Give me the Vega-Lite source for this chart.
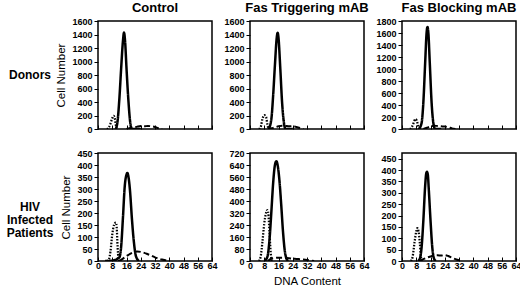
{
  "$schema": "https://vega.github.io/schema/vega-lite/v6.json",
  "padding": {"left": 0, "top": 1, "right": 0, "bottom": 0},
  "background": "white",
  "config": {
    "font": "Liberation Sans",
    "view": {"stroke": "black", "strokeWidth": 1.5},
    "axis": {"domain": false, "grid": false, "tickColor": "black", "labelColor": "black", "titleColor": "black", "labelFont": "Liberation Sans", "labelFontWeight": "bold", "labelFontSize": 9, "labelOverlap": false, "labelFlush": false, "titleFont": "Liberation Sans", "titleFontWeight": "normal", "titleFontSize": 11.5, "tickWidth": 1},
    "title": {"font": "Liberation Sans", "fontWeight": "bold", "fontSize": 13, "color": "black", "offset": 2}
  },
  "data": {"values": [
    {"panel":"DC","series":"solid","x":10,"y":0},{"panel":"DC","series":"solid","x":11,"y":120},{"panel":"DC","series":"solid","x":12,"y":450},{"panel":"DC","series":"solid","x":13,"y":900},{"panel":"DC","series":"solid","x":14,"y":1300},{"panel":"DC","series":"solid","x":14.6,"y":1430},{"panel":"DC","series":"solid","x":15.2,"y":1300},{"panel":"DC","series":"solid","x":16,"y":900},{"panel":"DC","series":"solid","x":17,"y":450},{"panel":"DC","series":"solid","x":18,"y":120},{"panel":"DC","series":"solid","x":19,"y":0},{"panel":"DC","series":"solid","x":24,"y":0},
    {"panel":"DC","series":"dotted","x":5,"y":0},{"panel":"DC","series":"dotted","x":6,"y":20},{"panel":"DC","series":"dotted","x":7,"y":80},{"panel":"DC","series":"dotted","x":8,"y":160},{"panel":"DC","series":"dotted","x":8.8,"y":195},{"panel":"DC","series":"dotted","x":9.5,"y":150},{"panel":"DC","series":"dotted","x":10,"y":60},{"panel":"DC","series":"dotted","x":10.5,"y":10},{"panel":"DC","series":"dotted","x":11,"y":0},
    {"panel":"DC","series":"dashed","x":16,"y":0},{"panel":"DC","series":"dashed","x":18,"y":15},{"panel":"DC","series":"dashed","x":20,"y":20},{"panel":"DC","series":"dashed","x":22,"y":35},{"panel":"DC","series":"dashed","x":24,"y":45},{"panel":"DC","series":"dashed","x":26,"y":40},{"panel":"DC","series":"dashed","x":28,"y":45},{"panel":"DC","series":"dashed","x":30,"y":40},{"panel":"DC","series":"dashed","x":32,"y":30},{"panel":"DC","series":"dashed","x":34,"y":10},{"panel":"DC","series":"dashed","x":36,"y":0},

    {"panel":"DT","series":"solid","x":10.5,"y":0},{"panel":"DT","series":"solid","x":12,"y":150},{"panel":"DT","series":"solid","x":13,"y":500},{"panel":"DT","series":"solid","x":14,"y":950},{"panel":"DT","series":"solid","x":15,"y":1350},{"panel":"DT","series":"solid","x":15.5,"y":1425},{"panel":"DT","series":"solid","x":16,"y":1350},{"panel":"DT","series":"solid","x":17,"y":900},{"panel":"DT","series":"solid","x":18,"y":400},{"panel":"DT","series":"solid","x":19,"y":100},{"panel":"DT","series":"solid","x":20,"y":0},{"panel":"DT","series":"solid","x":24,"y":0},
    {"panel":"DT","series":"dotted","x":5,"y":0},{"panel":"DT","series":"dotted","x":6,"y":30},{"panel":"DT","series":"dotted","x":7,"y":150},{"panel":"DT","series":"dotted","x":8,"y":205},{"panel":"DT","series":"dotted","x":9,"y":180},{"panel":"DT","series":"dotted","x":9.8,"y":60},{"panel":"DT","series":"dotted","x":10.5,"y":0},
    {"panel":"DT","series":"dashed","x":10,"y":0},{"panel":"DT","series":"dashed","x":12,"y":10},{"panel":"DT","series":"dashed","x":14,"y":25},{"panel":"DT","series":"dashed","x":16,"y":40},{"panel":"DT","series":"dashed","x":18,"y":50},{"panel":"DT","series":"dashed","x":20,"y":45},{"panel":"DT","series":"dashed","x":22,"y":40},{"panel":"DT","series":"dashed","x":24,"y":45},{"panel":"DT","series":"dashed","x":26,"y":30},{"panel":"DT","series":"dashed","x":28,"y":15},{"panel":"DT","series":"dashed","x":30,"y":0},

    {"panel":"DB","series":"solid","x":9.5,"y":0},{"panel":"DB","series":"solid","x":11,"y":100},{"panel":"DB","series":"solid","x":12,"y":450},{"panel":"DB","series":"solid","x":13,"y":1100},{"panel":"DB","series":"solid","x":13.8,"y":1600},{"panel":"DB","series":"solid","x":14.3,"y":1700},{"panel":"DB","series":"solid","x":14.8,"y":1600},{"panel":"DB","series":"solid","x":15.6,"y":1100},{"panel":"DB","series":"solid","x":16.6,"y":450},{"panel":"DB","series":"solid","x":17.6,"y":100},{"panel":"DB","series":"solid","x":18.6,"y":0},{"panel":"DB","series":"solid","x":22,"y":0},
    {"panel":"DB","series":"dotted","x":4.5,"y":0},{"panel":"DB","series":"dotted","x":5.5,"y":30},{"panel":"DB","series":"dotted","x":6.5,"y":100},{"panel":"DB","series":"dotted","x":7.5,"y":165},{"panel":"DB","series":"dotted","x":8.3,"y":140},{"panel":"DB","series":"dotted","x":9,"y":60},{"panel":"DB","series":"dotted","x":9.7,"y":0},
    {"panel":"DB","series":"dashed","x":12,"y":0},{"panel":"DB","series":"dashed","x":14,"y":20},{"panel":"DB","series":"dashed","x":16,"y":45},{"panel":"DB","series":"dashed","x":18,"y":55},{"panel":"DB","series":"dashed","x":20,"y":50},{"panel":"DB","series":"dashed","x":22,"y":45},{"panel":"DB","series":"dashed","x":24,"y":40},{"panel":"DB","series":"dashed","x":26,"y":30},{"panel":"DB","series":"dashed","x":28,"y":10},{"panel":"DB","series":"dashed","x":30,"y":0},

    {"panel":"HC","series":"solid","x":4,"y":0},{"panel":"HC","series":"solid","x":8,"y":2},{"panel":"HC","series":"solid","x":10,"y":5},{"panel":"HC","series":"solid","x":11,"y":10},{"panel":"HC","series":"solid","x":12,"y":15},{"panel":"HC","series":"solid","x":13,"y":60},{"panel":"HC","series":"solid","x":14,"y":180},{"panel":"HC","series":"solid","x":15,"y":310},{"panel":"HC","series":"solid","x":16,"y":360},{"panel":"HC","series":"solid","x":16.5,"y":367},{"panel":"HC","series":"solid","x":17,"y":355},{"panel":"HC","series":"solid","x":18,"y":290},{"panel":"HC","series":"solid","x":19,"y":180},{"panel":"HC","series":"solid","x":20,"y":90},{"panel":"HC","series":"solid","x":21,"y":30},{"panel":"HC","series":"solid","x":22,"y":8},{"panel":"HC","series":"solid","x":23,"y":0},
    {"panel":"HC","series":"dotted","x":5,"y":0},{"panel":"HC","series":"dotted","x":6,"y":5},{"panel":"HC","series":"dotted","x":7,"y":40},{"panel":"HC","series":"dotted","x":8,"y":110},{"panel":"HC","series":"dotted","x":9,"y":150},{"panel":"HC","series":"dotted","x":10,"y":160},{"panel":"HC","series":"dotted","x":10.5,"y":140},{"panel":"HC","series":"dotted","x":11,"y":60},{"panel":"HC","series":"dotted","x":11.5,"y":10},{"panel":"HC","series":"dotted","x":12,"y":0},
    {"panel":"HC","series":"dashed","x":12,"y":0},{"panel":"HC","series":"dashed","x":14,"y":10},{"panel":"HC","series":"dashed","x":16,"y":20},{"panel":"HC","series":"dashed","x":18,"y":30},{"panel":"HC","series":"dashed","x":20,"y":37},{"panel":"HC","series":"dashed","x":22,"y":40},{"panel":"HC","series":"dashed","x":24,"y":38},{"panel":"HC","series":"dashed","x":26,"y":34},{"panel":"HC","series":"dashed","x":28,"y":28},{"panel":"HC","series":"dashed","x":30,"y":22},{"panel":"HC","series":"dashed","x":32,"y":15},{"panel":"HC","series":"dashed","x":34,"y":10},{"panel":"HC","series":"dashed","x":36,"y":6},{"panel":"HC","series":"dashed","x":38,"y":3},{"panel":"HC","series":"dashed","x":40,"y":0},

    {"panel":"HT","series":"solid","x":8,"y":0},{"panel":"HT","series":"solid","x":9,"y":10},{"panel":"HT","series":"solid","x":10,"y":40},{"panel":"HT","series":"solid","x":11,"y":150},{"panel":"HT","series":"solid","x":12,"y":330},{"panel":"HT","series":"solid","x":13,"y":520},{"panel":"HT","series":"solid","x":14,"y":640},{"panel":"HT","series":"solid","x":14.8,"y":665},{"panel":"HT","series":"solid","x":15.5,"y":640},{"panel":"HT","series":"solid","x":16.5,"y":540},{"panel":"HT","series":"solid","x":17.5,"y":380},{"panel":"HT","series":"solid","x":18.5,"y":200},{"panel":"HT","series":"solid","x":19.5,"y":70},{"panel":"HT","series":"solid","x":20.5,"y":15},{"panel":"HT","series":"solid","x":21.5,"y":0},
    {"panel":"HT","series":"dotted","x":5,"y":0},{"panel":"HT","series":"dotted","x":6,"y":30},{"panel":"HT","series":"dotted","x":7,"y":130},{"panel":"HT","series":"dotted","x":8,"y":250},{"panel":"HT","series":"dotted","x":9,"y":320},{"panel":"HT","series":"dotted","x":9.8,"y":340},{"panel":"HT","series":"dotted","x":10.4,"y":300},{"panel":"HT","series":"dotted","x":11,"y":180},{"panel":"HT","series":"dotted","x":11.6,"y":60},{"panel":"HT","series":"dotted","x":12.2,"y":0},
    {"panel":"HT","series":"dashed","x":10,"y":0},{"panel":"HT","series":"dashed","x":12,"y":15},{"panel":"HT","series":"dashed","x":14,"y":20},{"panel":"HT","series":"dashed","x":16,"y":22},{"panel":"HT","series":"dashed","x":18,"y":22},{"panel":"HT","series":"dashed","x":20,"y":20},{"panel":"HT","series":"dashed","x":22,"y":18},{"panel":"HT","series":"dashed","x":24,"y":15},{"panel":"HT","series":"dashed","x":26,"y":14},{"panel":"HT","series":"dashed","x":28,"y":12},{"panel":"HT","series":"dashed","x":30,"y":10},{"panel":"HT","series":"dashed","x":32,"y":7},{"panel":"HT","series":"dashed","x":34,"y":3},{"panel":"HT","series":"dashed","x":36,"y":0},

    {"panel":"HB","series":"solid","x":9,"y":0},{"panel":"HB","series":"solid","x":10,"y":10},{"panel":"HB","series":"solid","x":11,"y":60},{"panel":"HB","series":"solid","x":12,"y":180},{"panel":"HB","series":"solid","x":13,"y":330},{"panel":"HB","series":"solid","x":13.6,"y":385},{"panel":"HB","series":"solid","x":14,"y":392},{"panel":"HB","series":"solid","x":14.5,"y":380},{"panel":"HB","series":"solid","x":15,"y":320},{"panel":"HB","series":"solid","x":16,"y":180},{"panel":"HB","series":"solid","x":17,"y":60},{"panel":"HB","series":"solid","x":18,"y":10},{"panel":"HB","series":"solid","x":19,"y":0},
    {"panel":"HB","series":"dotted","x":5,"y":0},{"panel":"HB","series":"dotted","x":6,"y":20},{"panel":"HB","series":"dotted","x":7,"y":80},{"panel":"HB","series":"dotted","x":8,"y":130},{"panel":"HB","series":"dotted","x":8.6,"y":145},{"panel":"HB","series":"dotted","x":9.3,"y":130},{"panel":"HB","series":"dotted","x":10,"y":80},{"panel":"HB","series":"dotted","x":10.6,"y":20},{"panel":"HB","series":"dotted","x":11,"y":0},
    {"panel":"HB","series":"dashed","x":10,"y":0},{"panel":"HB","series":"dashed","x":12,"y":8},{"panel":"HB","series":"dashed","x":14,"y":15},{"panel":"HB","series":"dashed","x":16,"y":20},{"panel":"HB","series":"dashed","x":18,"y":24},{"panel":"HB","series":"dashed","x":20,"y":25},{"panel":"HB","series":"dashed","x":22,"y":24},{"panel":"HB","series":"dashed","x":24,"y":26},{"panel":"HB","series":"dashed","x":26,"y":22},{"panel":"HB","series":"dashed","x":28,"y":15},{"panel":"HB","series":"dashed","x":30,"y":8},{"panel":"HB","series":"dashed","x":32,"y":3},{"panel":"HB","series":"dashed","x":34,"y":0}
  ]},
  "columns": 4,
  "bounds": "flush",
  "spacing": {"row": 24, "column": 38},
  "concat": [
    {"width": 60, "height": 108, "view": {"stroke": null}, "data": {"values": [{"label": "Donors"}]},
     "mark": {"type": "text", "font": "Liberation Sans", "fontWeight": "bold", "fontSize": 12, "color": "black", "align": "center"},
     "encoding": {"text": {"field": "label"}}},
    {"width": 114, "height": 108, "title": "Control",
     "transform": [{"filter": "datum.panel === 'DC'"}],
     "mark": {"type": "line", "interpolate": "monotone", "color": "black", "clip": true},
     "encoding": {
       "x": {"field": "x", "type": "quantitative", "scale": {"domain": [0, 64], "nice": false}, "axis": {"values": [0,8,16,24,32,40,48,56,64], "labels": false, "tickSize": -4, "title": null}},
       "y": {"field": "y", "type": "quantitative", "scale": {"domain": [0, 1600], "nice": false}, "axis": {"values": [0,200,400,600,800,1000,1200,1400,1600], "format": "d", "tickSize": 4, "labelPadding": 2, "title": "Cell Number", "titlePadding": 5}},
       "detail": {"field": "series"},
       "strokeDash": {"field": "series", "type": "nominal", "scale": {"domain": ["solid","dotted","dashed"], "range": [[1,0],[1.5,1.5],[6,3]]}, "legend": null},
       "strokeWidth": {"field": "series", "type": "nominal", "scale": {"domain": ["solid","dotted","dashed"], "range": [2.5,2,2]}, "legend": null}
     }},
    {"width": 114, "height": 108, "title": "Fas Triggering mAB",
     "transform": [{"filter": "datum.panel === 'DT'"}],
     "mark": {"type": "line", "interpolate": "monotone", "color": "black", "clip": true},
     "encoding": {
       "x": {"field": "x", "type": "quantitative", "scale": {"domain": [0, 64], "nice": false}, "axis": {"values": [0,8,16,24,32,40,48,56,64], "labels": false, "tickSize": -4, "title": null}},
       "y": {"field": "y", "type": "quantitative", "scale": {"domain": [0, 1600], "nice": false}, "axis": {"values": [0,200,400,600,800,1000,1200,1400,1600], "format": "d", "tickSize": 4, "labelPadding": 2, "title": null}},
       "detail": {"field": "series"},
       "strokeDash": {"field": "series", "type": "nominal", "scale": {"domain": ["solid","dotted","dashed"], "range": [[1,0],[1.5,1.5],[6,3]]}, "legend": null},
       "strokeWidth": {"field": "series", "type": "nominal", "scale": {"domain": ["solid","dotted","dashed"], "range": [2.5,2,2]}, "legend": null}
     }},
    {"width": 114, "height": 108, "title": "Fas Blocking mAB",
     "transform": [{"filter": "datum.panel === 'DB'"}],
     "mark": {"type": "line", "interpolate": "monotone", "color": "black", "clip": true},
     "encoding": {
       "x": {"field": "x", "type": "quantitative", "scale": {"domain": [0, 64], "nice": false}, "axis": {"values": [0,8,16,24,32,40,48,56,64], "labels": false, "tickSize": -4, "title": null}},
       "y": {"field": "y", "type": "quantitative", "scale": {"domain": [0, 1800], "nice": false}, "axis": {"values": [0,200,400,600,800,1000,1200,1400,1600,1800], "format": "d", "tickSize": 4, "labelPadding": 2, "title": null}},
       "detail": {"field": "series"},
       "strokeDash": {"field": "series", "type": "nominal", "scale": {"domain": ["solid","dotted","dashed"], "range": [[1,0],[1.5,1.5],[6,3]]}, "legend": null},
       "strokeWidth": {"field": "series", "type": "nominal", "scale": {"domain": ["solid","dotted","dashed"], "range": [2.5,2,2]}, "legend": null}
     }},
    {"width": 60, "height": 108, "view": {"stroke": null}, "data": {"values": [{"label": "HIV\nInfected\nPatients"}]},
     "mark": {"type": "text", "font": "Liberation Sans", "fontWeight": "bold", "fontSize": 12, "color": "black", "align": "center", "lineBreak": "\n", "lineHeight": 13},
     "encoding": {"text": {"field": "label"}}},
    {"width": 114, "height": 108,
     "transform": [{"filter": "datum.panel === 'HC'"}],
     "mark": {"type": "line", "interpolate": "monotone", "color": "black", "clip": true},
     "encoding": {
       "x": {"field": "x", "type": "quantitative", "scale": {"domain": [0, 64], "nice": false}, "axis": {"values": [0,8,16,24,32,40,48,56,64], "tickSize": -4, "labelPadding": 4, "title": null}},
       "y": {"field": "y", "type": "quantitative", "scale": {"domain": [0, 450], "nice": false}, "axis": {"values": [0,50,100,150,200,250,300,350,400,450], "format": "d", "tickSize": 4, "labelPadding": 2, "title": "Cell Number", "titlePadding": 5}},
       "detail": {"field": "series"},
       "strokeDash": {"field": "series", "type": "nominal", "scale": {"domain": ["solid","dotted","dashed"], "range": [[1,0],[1.5,1.5],[6,3]]}, "legend": null},
       "strokeWidth": {"field": "series", "type": "nominal", "scale": {"domain": ["solid","dotted","dashed"], "range": [2.5,2,2]}, "legend": null}
     }},
    {"width": 114, "height": 108,
     "transform": [{"filter": "datum.panel === 'HT'"}],
     "mark": {"type": "line", "interpolate": "monotone", "color": "black", "clip": true},
     "encoding": {
       "x": {"field": "x", "type": "quantitative", "scale": {"domain": [0, 64], "nice": false}, "axis": {"values": [0,8,16,24,32,40,48,56,64], "tickSize": -4, "labelPadding": 4, "title": "DNA Content", "titlePadding": 5}},
       "y": {"field": "y", "type": "quantitative", "scale": {"domain": [0, 720], "nice": false}, "axis": {"values": [0,80,160,240,320,400,480,560,640,720], "format": "d", "tickSize": 4, "labelPadding": 2, "title": null}},
       "detail": {"field": "series"},
       "strokeDash": {"field": "series", "type": "nominal", "scale": {"domain": ["solid","dotted","dashed"], "range": [[1,0],[1.5,1.5],[6,3]]}, "legend": null},
       "strokeWidth": {"field": "series", "type": "nominal", "scale": {"domain": ["solid","dotted","dashed"], "range": [2.5,2,2]}, "legend": null}
     }},
    {"width": 114, "height": 108,
     "transform": [{"filter": "datum.panel === 'HB'"}],
     "mark": {"type": "line", "interpolate": "monotone", "color": "black", "clip": true},
     "encoding": {
       "x": {"field": "x", "type": "quantitative", "scale": {"domain": [0, 64], "nice": false}, "axis": {"values": [0,8,16,24,32,40,48,56,64], "tickSize": -4, "labelPadding": 4, "title": null}},
       "y": {"field": "y", "type": "quantitative", "scale": {"domain": [0, 475], "nice": false}, "axis": {"values": [0,50,100,150,200,250,300,350,400,450], "format": "d", "tickSize": 4, "labelPadding": 2, "title": null}},
       "detail": {"field": "series"},
       "strokeDash": {"field": "series", "type": "nominal", "scale": {"domain": ["solid","dotted","dashed"], "range": [[1,0],[1.5,1.5],[6,3]]}, "legend": null},
       "strokeWidth": {"field": "series", "type": "nominal", "scale": {"domain": ["solid","dotted","dashed"], "range": [2.5,2,2]}, "legend": null}
     }}
  ]
}
